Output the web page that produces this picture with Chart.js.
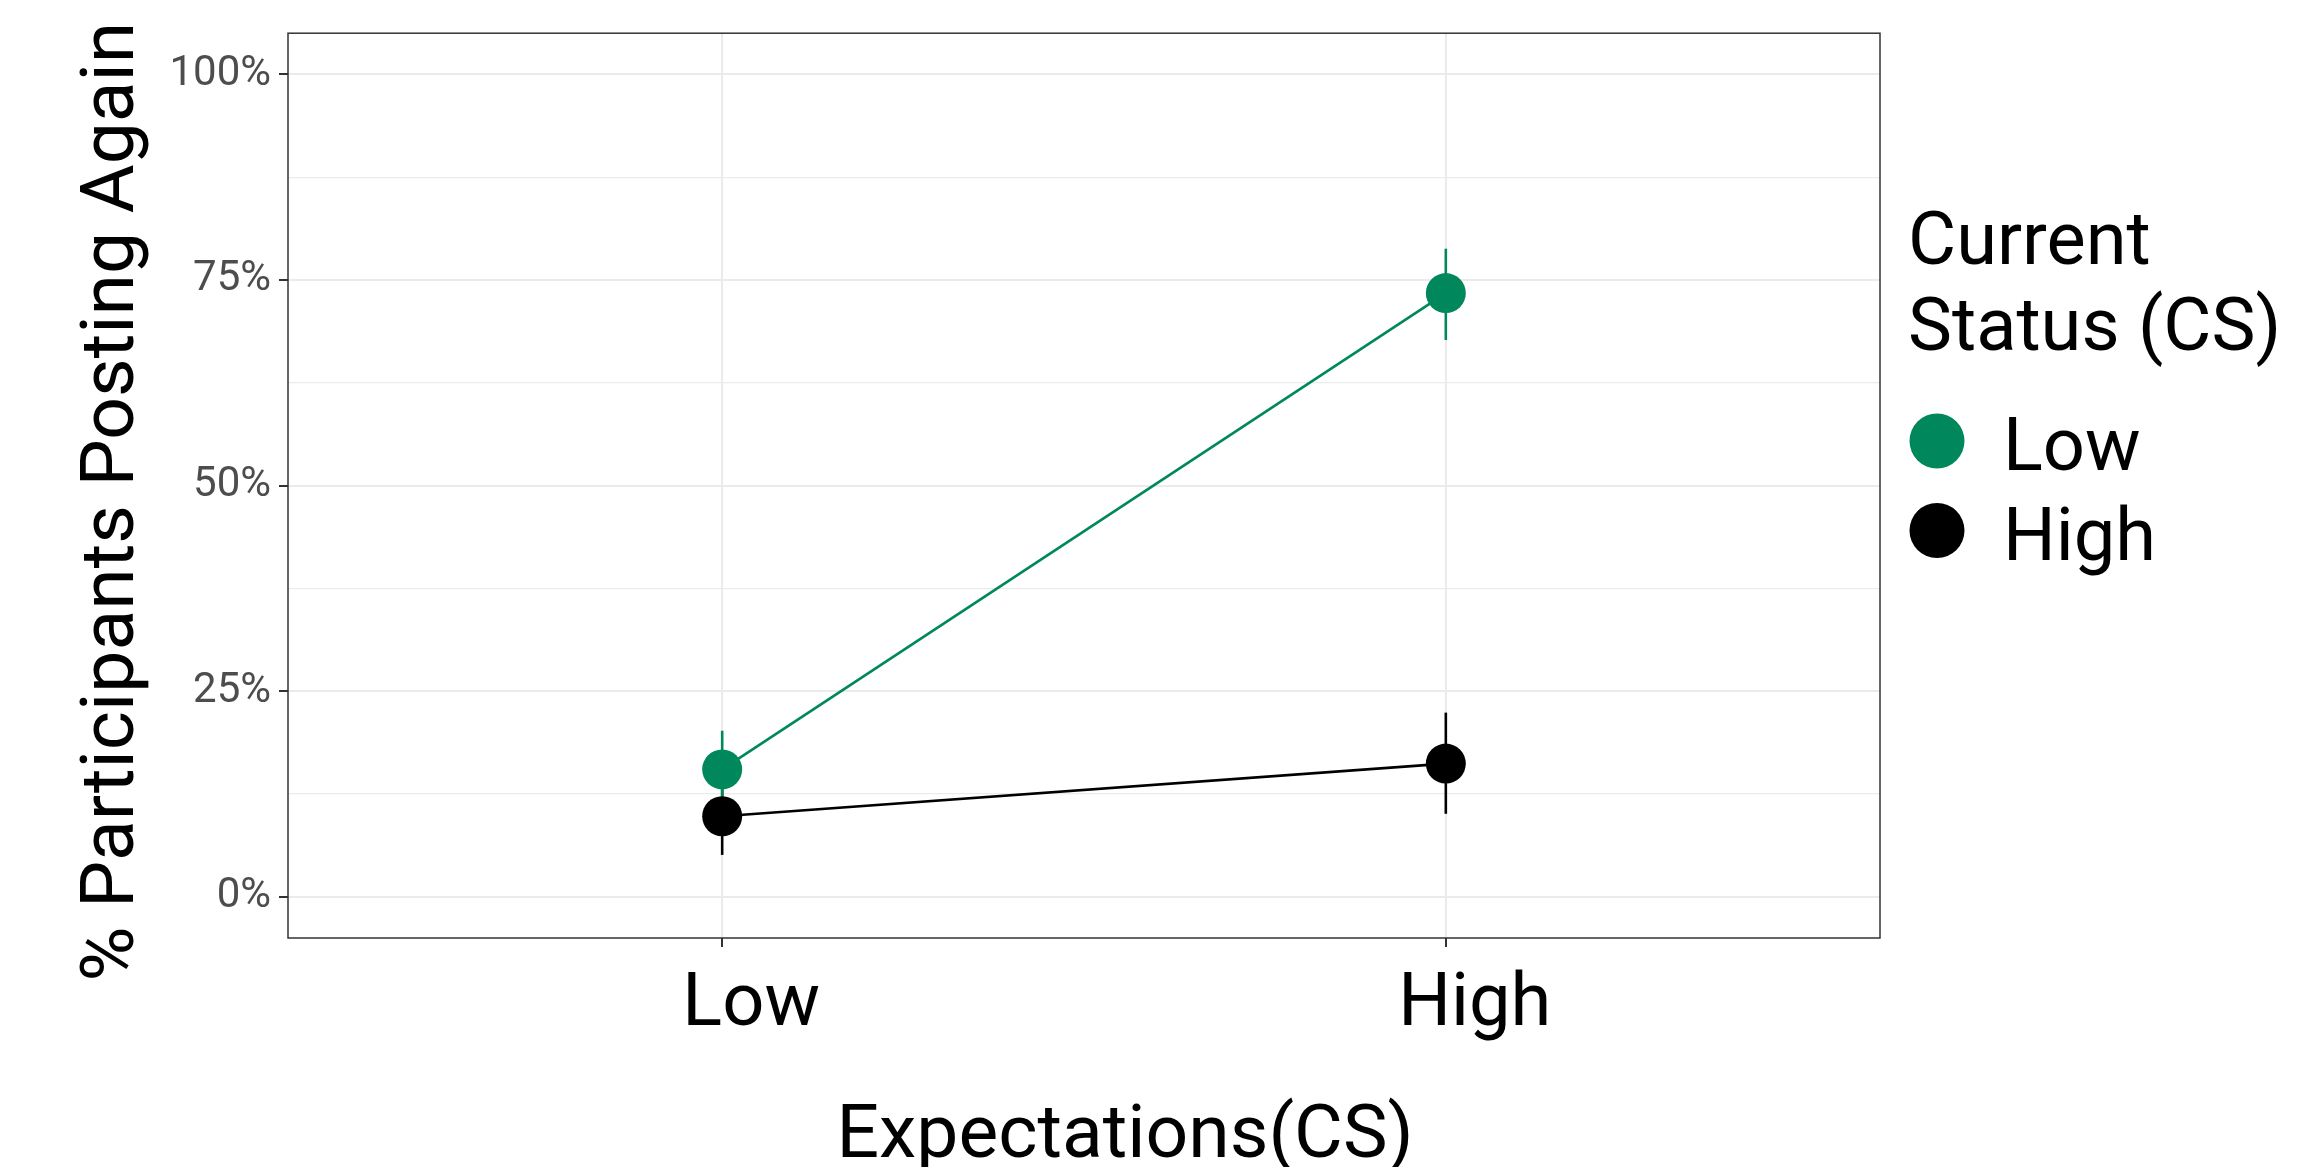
<!DOCTYPE html>
<html>
<head>
<meta charset="utf-8">
<script src="https://cdn.jsdelivr.net/npm/chart.js@4.4.1/dist/chart.umd.min.js"></script>
<style>
  html, body { margin: 0; padding: 0; background: #fff; }
  #wrap { width: 2309px; height: 1167px; }
</style>
</head>
<body>
<div id="wrap"><canvas id="chart" width="2309" height="1167"></canvas></div>
<script>
// expectations (x axis) and the two current-status series, in percent
const categories = ['Low', 'High'];
const seriesNames = ['Low', 'High'];
const lowCS = [15.5, 73.4];
const lowCSLower = [10.8, 67.7];
const lowCSUpper = [20.2, 78.8];
const highCS = [9.8, 16.2];
const highCSLower = [5.1, 10.1];
const highCSUpper = [14.5, 22.4];
const yTicks = [0, 25, 50, 75, 100];

const legendTitle = ['Current', 'Status (CS)'];
const xTitle = 'Expectations(CS)';
const yTitle = '% Participants Posting Again';

const green = '#00885c';
const FONT = 'Roboto, "Noto Sans", sans-serif';

function toPoints(vals) {
  return vals.map((v, i) => ({ x: i + 1, y: v }));
}

const overlay = {
  id: 'overlay',
  beforeDatasetsDraw(chart) {
    const { ctx } = chart;
    const xs = chart.scales.x, ys = chart.scales.y;
    // error bars behind the points
    chart.data.datasets.slice().reverse().forEach(ds => {
      ctx.save();
      ctx.strokeStyle = ds.borderColor;
      ctx.lineWidth = 2.6;
      ds.errLow.forEach((lo, j) => {
        const x = xs.getPixelForValue(j + 1);
        ctx.beginPath();
        ctx.moveTo(x, ys.getPixelForValue(lo));
        ctx.lineTo(x, ys.getPixelForValue(ds.errHigh[j]));
        ctx.stroke();
      });
      ctx.restore();
    });
  },
  afterDraw(chart) {
    const { ctx, chartArea: a } = chart;
    ctx.save();
    // panel border
    ctx.strokeStyle = '#333333';
    ctx.lineWidth = 1.5;
    ctx.strokeRect(a.left, a.top, a.right - a.left, a.bottom - a.top);

    // axis titles
    ctx.fillStyle = '#000';
    ctx.font = '75px ' + FONT;
    ctx.textAlign = 'center';
    ctx.textBaseline = 'alphabetic';
    ctx.fillText(xTitle, (a.left + a.right) / 2 + 41, chart.height - 10);
    ctx.save();
    ctx.translate(133, (a.top + a.bottom) / 2 + 16);
    ctx.rotate(-Math.PI / 2);
    ctx.fillText(yTitle, 0, 0);
    ctx.restore();

    // legend
    const lx = a.right + 28;
    ctx.textAlign = 'left';
    ctx.font = '74px ' + FONT;
    legendTitle.forEach((t, i) => ctx.fillText(t, lx, 264 + i * 86));
    chart.data.datasets.forEach((ds, i) => {
      const cy = 441 + i * 89.5;
      ctx.fillStyle = ds.backgroundColor;
      ctx.beginPath();
      ctx.arc(lx + 29, cy, 27.5, 0, Math.PI * 2);
      ctx.fill();
      ctx.fillStyle = '#000';
      ctx.fillText(ds.label, lx + 95, cy + 29);
    });
    ctx.restore();
  }
};

function draw() {
  new Chart(document.getElementById('chart'), {
    type: 'line',
    data: {
      datasets: [
        {
          label: seriesNames[0],
          data: toPoints(lowCS),
          errLow: lowCSLower,
          errHigh: lowCSUpper,
          borderColor: green,
          backgroundColor: green,
          borderWidth: 2.6,
          pointRadius: 20,
          pointHoverRadius: 20,
          pointBorderWidth: 0
        },
        {
          label: seriesNames[1],
          data: toPoints(highCS),
          errLow: highCSLower,
          errHigh: highCSUpper,
          borderColor: '#000000',
          backgroundColor: '#000000',
          borderWidth: 2.6,
          pointRadius: 20,
          pointHoverRadius: 20,
          pointBorderWidth: 0
        }
      ]
    },
    options: {
      responsive: false,
      animation: false,
      devicePixelRatio: 1,
      layout: { padding: { top: 30, right: 429, bottom: 0, left: 0 } },
      plugins: { legend: { display: false }, tooltip: { enabled: false } },
      scales: {
        x: {
          type: 'linear',
          min: 0.4,
          max: 2.6,
          afterBuildTicks: s => { s.ticks = categories.map((c, i) => ({ value: i + 1 })); },
          afterFit: s => { s.height = 229; },
          border: { display: false },
          grid: { color: '#ebebeb', lineWidth: 2, tickColor: '#333333', tickWidth: 2, tickLength: 9 },
          ticks: {
            callback: v => categories[v - 1],
            color: '#000',
            font: { family: FONT, size: 74, lineHeight: 1 },
            padding: 22,
            labelOffset: 29,
            maxRotation: 0,
            autoSkip: false
          }
        },
        y: {
          min: -5,
          max: 105,
          afterFit: s => { s.width = 288; },
          border: { display: false },
          grid: {
            color: '#ebebeb',
            lineWidth: c => (yTicks.includes(c.tick.value) ? 2 : 1.2),
            tickColor: c => (yTicks.includes(c.tick.value) ? '#333333' : 'rgba(0,0,0,0)'),
            tickWidth: 2,
            tickLength: 9
          },
          ticks: {
            stepSize: 12.5,
            includeBounds: false,
            autoSkip: false,
            callback: v => (yTicks.includes(v) ? v + '%' : ''),
            color: '#4d4d4d',
            font: { family: FONT, size: 42 },
            padding: 8
          }
        }
      }
    },
    plugins: [overlay]
  });
}

if (document.fonts && document.fonts.load) {
  Promise.all([document.fonts.load('74px Roboto'), document.fonts.load('42px Roboto')])
    .then(draw, draw);
} else {
  draw();
}
</script>
</body>
</html>
